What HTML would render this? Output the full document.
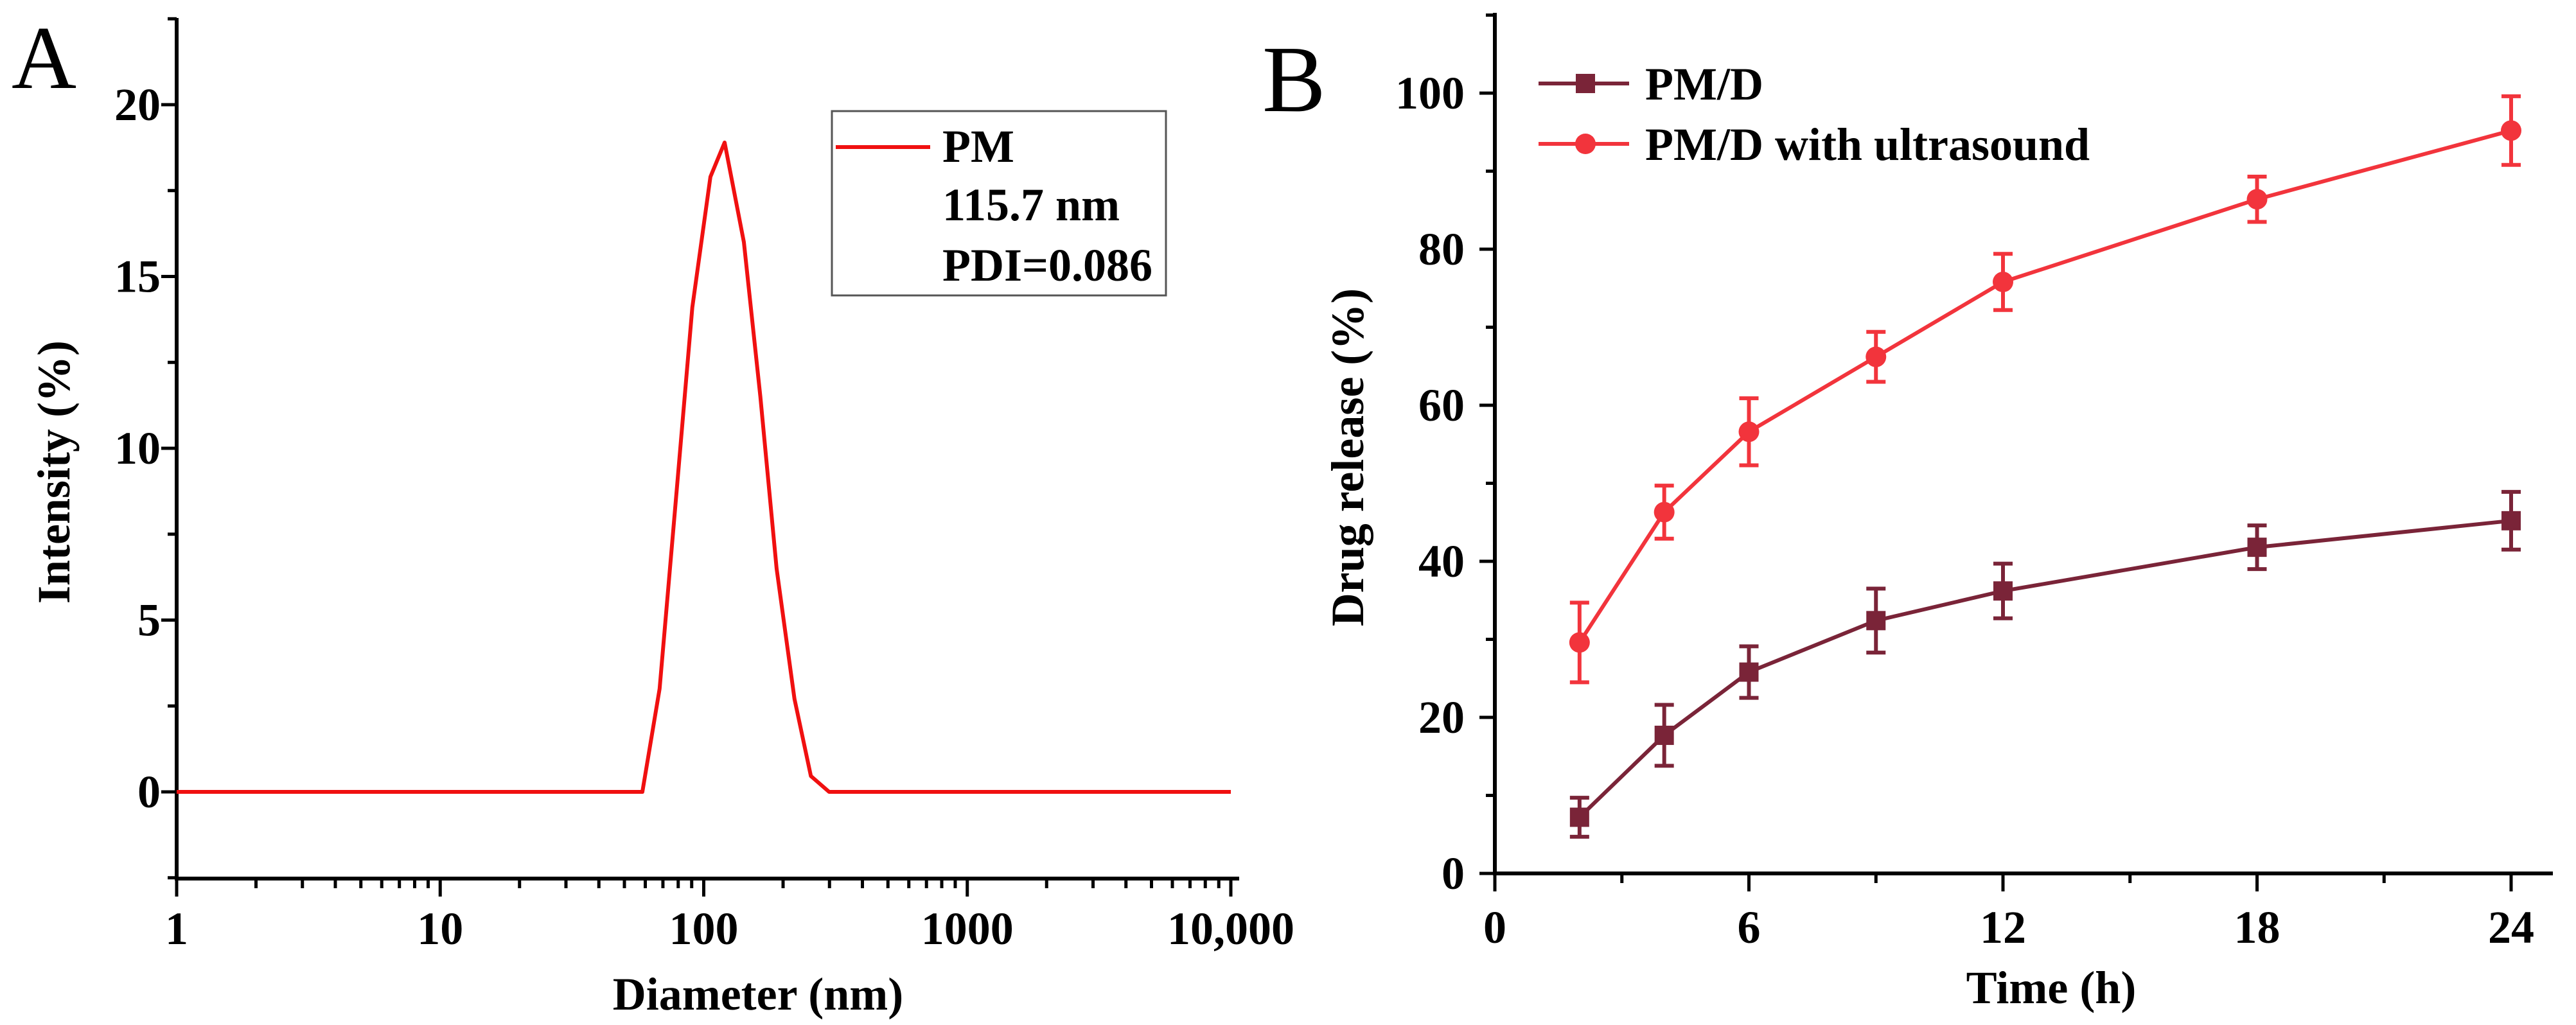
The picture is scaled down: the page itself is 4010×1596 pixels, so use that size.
<!DOCTYPE html>
<html><head><meta charset="utf-8"><style>
html,body{margin:0;padding:0;background:#fff;}
svg{display:block;font-family:"Liberation Serif",serif;}
.t{font-weight:bold;font-size:72px;}
</style></head><body>
<svg id="s" width="4010" height="1596" viewBox="0 0 4010 1596" xmlns="http://www.w3.org/2000/svg"></svg>
<script>
// Panel A data
const diamNm = [1, 58.5, 68, 79, 90.5, 106, 120, 142, 164, 189, 221, 255, 299, 10000];
const intensityPct = [0, 0, 3, 8.8, 14.1, 17.9, 18.9, 16.0, 11.5, 6.5, 2.7, 0.46, 0, 0];
const aYTicks = [0, 5, 10, 15, 20];
const aXTicks = [1, 10, 100, 1000, 10000];
const aXTickLabels = ["1", "10", "100", "1000", "10,000"];
// Panel B data
const timeH = [2, 4, 6, 9, 12, 18, 24];
const pmd = [7.2, 17.7, 25.8, 32.4, 36.2, 41.8, 45.2];
const pmdErr = [2.5, 3.9, 3.3, 4.1, 3.5, 2.8, 3.7];
const pmdUS = [29.6, 46.3, 56.6, 66.2, 75.8, 86.4, 95.2];
const pmdUSErr = [5.1, 3.4, 4.3, 3.2, 3.6, 2.9, 4.4];
const bXTicks = [0, 6, 12, 18, 24];
const bYTicks = [0, 20, 40, 60, 80, 100];

const NS = "http://www.w3.org/2000/svg";
const svg = document.getElementById('s');
function mk(tag, attrs, parent, text){
  const e = document.createElementNS(NS, tag);
  for (const k in attrs) e.setAttribute(k, attrs[k]);
  if (text !== undefined) e.textContent = text;
  (parent || svg).appendChild(e);
  return e;
}
// ---------- Panel A ----------
const ax = v => 275 + (Math.log10(v)) * (1916 - 275) / 4;
const ay = v => 1233 - v * (1233 - 163) / 20;
const gA = mk('g', {});


let e = mk('text', {x: 18, y: 137, 'font-size': 140}, gA, 'A');


e = mk('path', {d: `M275 28 V1368 H1929`, stroke: '#000', 'stroke-width': 6, fill: 'none'}, gA);


for (let v = -2.5; v <= 22.5; v += 2.5) {
  const y = ay(v);
  if (y < 28 || y > 1368) continue;
  const major = aYTicks.includes(v);
  e = mk('line', {x1: 275, x2: 275 - (major ? 24 : 14), y1: y, y2: y, stroke: '#000', 'stroke-width': 5}, gA);
  
  
}
aYTicks.forEach(v => {
  e = mk('text', {x: 250, y: ay(v) + 24, 'text-anchor': 'end', class: 't'}, gA, String(v));
  
  
});
for (let d = 0; d < 4; d++) for (let m = 1; m <= 10; m++) {
  const v = Math.pow(10, d) * m;
  if (m === 10 && d < 3) continue;
  const major = m === 1 || m === 10;
  e = mk('line', {x1: ax(v), x2: ax(v), y1: 1368, y2: 1368 + (major ? 28 : 15), stroke: '#000', 'stroke-width': 5}, gA);
  
  
}
aXTicks.forEach((v, i) => {
  e = mk('text', {x: ax(v), y: 1470, 'text-anchor': 'middle', class: 't'}, gA, aXTickLabels[i]);
  
  
});
e = mk('text', {x: 0, y: 0, class: 't', 'font-size': 76, 'text-anchor': 'middle', transform: 'translate(108 735) rotate(-90)'}, gA, 'Intensity (%)');


e = mk('text', {x: 1180, y: 1572, class: 't', 'font-size': 76, 'text-anchor': 'middle'}, gA, 'Diameter (nm)');


e = mk('polyline', {points: diamNm.map((d, i) => ax(d) + ',' + ay(intensityPct[i])).join(' '), fill: 'none', stroke: '#f01010', 'stroke-width': 6, 'stroke-linejoin': 'round'}, gA);


const legA = mk('g', {}, gA);


mk('rect', {x: 1295, y: 173, width: 520, height: 287, fill: '#fff', stroke: '#555', 'stroke-width': 3}, legA);
mk('line', {x1: 1301, x2: 1448, y1: 229, y2: 229, stroke: '#f01010', 'stroke-width': 6}, legA);
mk('text', {x: 1467, y: 252, class: 't', 'font-size': 74}, legA, 'PM');
mk('text', {x: 1467, y: 343, class: 't', 'font-size': 74}, legA, '115.7 nm');
mk('text', {x: 1467, y: 437, class: 't', 'font-size': 74}, legA, 'PDI=0.086');

// ---------- Panel B ----------
const bx = v => 2327 + v * (3909 - 2327) / 24;
const by = v => 1360 - v * (1360 - 145) / 100;
const gB = mk('g', {});


e = mk('text', {x: 1965, y: 173, 'font-size': 148}, gB, 'B');


e = mk('path', {d: `M2327 20 V1360 H3974`, stroke: '#000', 'stroke-width': 6, fill: 'none'}, gB);


for (let v = 0; v <= 120; v += 10) {
  const y = by(v); if (y < 20) continue;
  const major = v % 20 === 0;
  e = mk('line', {x1: 2327, x2: 2327 - (major ? 24 : 14), y1: y, y2: y, stroke: '#000', 'stroke-width': 5}, gB);
  
  
}
bYTicks.forEach(v => {
  e = mk('text', {x: 2280, y: by(v) + 24, 'text-anchor': 'end', class: 't'}, gB, String(v));
  
  
});
for (let v = 0; v <= 24; v += 3) {
  const major = v % 6 === 0;
  e = mk('line', {x1: bx(v), x2: bx(v), y1: 1360, y2: 1360 + (major ? 28 : 15), stroke: '#000', 'stroke-width': 5}, gB);
  
  
}
bXTicks.forEach(v => {
  e = mk('text', {x: bx(v), y: 1468, 'text-anchor': 'middle', class: 't'}, gB, String(v));
  
  
});
e = mk('text', {x: 0, y: 0, class: 't', 'font-size': 74, 'text-anchor': 'middle', transform: 'translate(2122 712) rotate(-90)'}, gB, 'Drug release (%)');


e = mk('text', {x: 3193, y: 1562, class: 't', 'font-size': 76, 'text-anchor': 'middle'}, gB, 'Time (h)');



function series(vals, errs, color, shape, name){
  const g = mk('g', {}, gB);
  
  
  mk('polyline', {points: timeH.map((t, i) => bx(t) + ',' + by(vals[i])).join(' '), fill: 'none', stroke: color, 'stroke-width': 6}, g);
  timeH.forEach((t, i) => {
    const x = bx(t), y1 = by(vals[i] + errs[i]), y2 = by(vals[i] - errs[i]);
    const eb = mk('path', {d: `M${x} ${y1} V${y2} M${x-15} ${y1} H${x+15} M${x-15} ${y2} H${x+15}`, stroke: color, 'stroke-width': 6, fill: 'none'}, g);
    
    
    let m;
    if (shape === 'sq') m = mk('rect', {x: x - 15, y: by(vals[i]) - 15, width: 30, height: 30, fill: color}, g);
    else m = mk('circle', {cx: x, cy: by(vals[i]), r: 16, fill: color}, g);
    
    
  });
}
series(pmd, pmdErr, '#7a2438', 'sq', 'series-pmd');
series(pmdUS, pmdUSErr, '#f2343c', 'ci', 'series-pmd-ultrasound');

const legB = mk('g', {}, gB);


mk('line', {x1: 2395, x2: 2536, y1: 130, y2: 130, stroke: '#7a2438', 'stroke-width': 6}, legB);
mk('rect', {x: 2453, y: 115, width: 30, height: 30, fill: '#7a2438'}, legB);
mk('text', {x: 2561, y: 155, class: 't', 'font-size': 74}, legB, 'PM/D');
mk('line', {x1: 2395, x2: 2536, y1: 224, y2: 224, stroke: '#f2343c', 'stroke-width': 6}, legB);
mk('circle', {cx: 2468, cy: 224, r: 16, fill: '#f2343c'}, legB);
mk('text', {x: 2561, y: 249, class: 't', 'font-size': 74}, legB, 'PM/D with ultrasound');
</script>
</body></html>
